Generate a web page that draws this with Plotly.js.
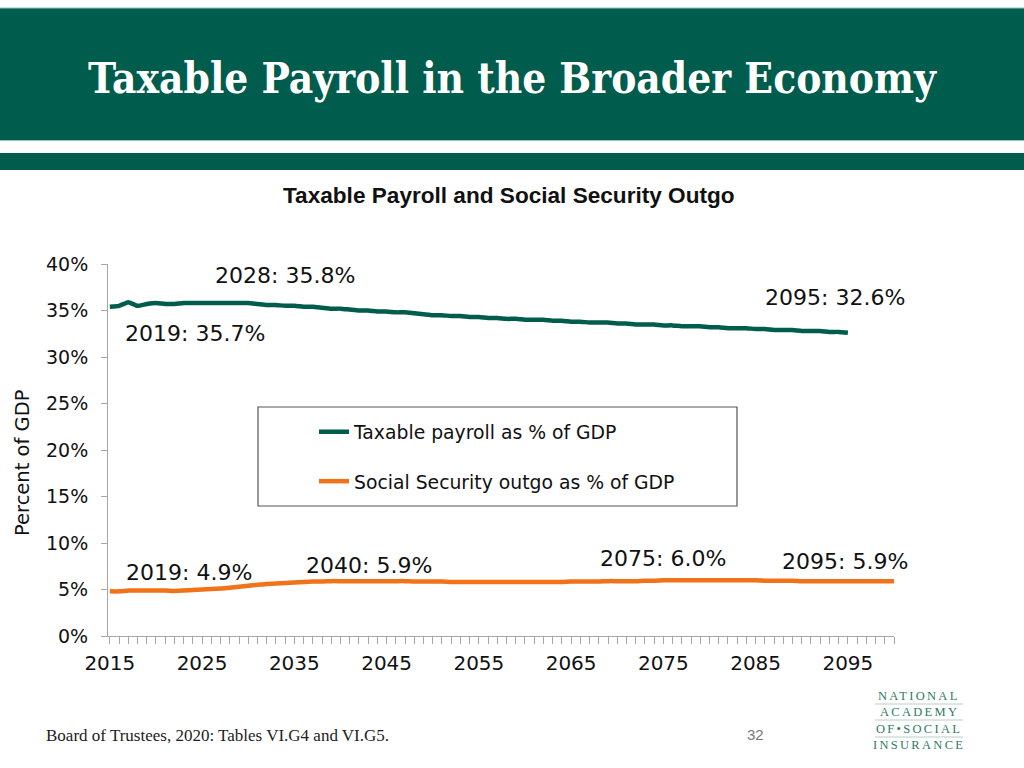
<!DOCTYPE html>
<html>
<head>
<meta charset="utf-8">
<script src="https://cdn.plot.ly/plotly-3.0.1.min.js"></script>
<style>
html,body{margin:0;padding:0;background:#fff;}
#chart{width:1024px;height:768px;}
</style>
</head>
<body>
<div id="chart"></div>
<script>
// ---- Data ----
const payrollYears = [2015,2016,2017,2018,2019,2020,2021,2022,2023,2024,2025,2026,2027,2028,2029,2030,
 2031,2032,2033,2034,2035,2036,2037,2038,2039,2040,2041,2042,2043,2044,2045,2046,2047,2048,2049,2050,
 2051,2052,2053,2054,2055,2056,2057,2058,2059,2060,2061,2062,2063,2064,2065,2066,2067,2068,2069,2070,
 2071,2072,2073,2074,2075,2076,2077,2078,2079,2080,2081,2082,2083,2084,2085,2086,2087,2088,2089,2090,
 2091,2092,2093,2094,2095];
const payrollPct = [35.4,35.5,35.9,35.5,35.7,35.8,35.7,35.7,35.8,35.8,35.8,35.8,35.8,35.8,35.8,35.8,
 35.7,35.6,35.6,35.5,35.5,35.4,35.4,35.3,35.2,35.2,35.1,35.0,35.0,34.9,34.9,34.8,34.8,34.7,34.6,34.5,
 34.5,34.4,34.4,34.3,34.3,34.2,34.2,34.1,34.1,34.0,34.0,34.0,33.9,33.9,33.8,33.8,33.7,33.7,33.7,33.6,
 33.6,33.5,33.5,33.5,33.4,33.4,33.3,33.3,33.3,33.2,33.2,33.1,33.1,33.1,33.0,33.0,32.9,32.9,32.9,32.8,
 32.8,32.8,32.7,32.7,32.6];

const outgoYears = [2015,2016,2017,2018,2019,2020,2021,2022,2023,2024,2025,2026,2027,2028,2029,2030,
 2031,2032,2033,2034,2035,2036,2037,2038,2039,2040,2041,2042,2043,2044,2045,2046,2047,2048,2049,2050,
 2051,2052,2053,2054,2055,2056,2057,2058,2059,2060,2061,2062,2063,2064,2065,2066,2067,2068,2069,2070,
 2071,2072,2073,2074,2075,2076,2077,2078,2079,2080,2081,2082,2083,2084,2085,2086,2087,2088,2089,2090,
 2091,2092,2093,2094,2095,2096,2097,2098,2099,2100];
const outgoPct = [4.8,4.8,4.9,4.9,4.9,4.9,4.9,4.85,4.9,4.95,5.0,5.05,5.1,5.2,5.3,5.4,
 5.5,5.6,5.65,5.7,5.75,5.8,5.85,5.85,5.9,5.9,5.9,5.9,5.9,5.9,5.9,5.9,5.9,5.85,5.85,5.85,
 5.85,5.8,5.8,5.8,5.8,5.8,5.8,5.8,5.8,5.8,5.8,5.8,5.8,5.8,5.85,5.85,5.85,5.85,5.9,5.9,
 5.9,5.9,5.95,5.95,6.0,6.0,6.0,6.0,6.0,6.0,6.0,6.0,6.0,6.0,6.0,5.95,5.95,5.95,5.95,5.9,
 5.9,5.9,5.9,5.9,5.9,5.9,5.9,5.9,5.9,5.9];

const seriesNames = ['Taxable payroll as % of GDP', 'Social Security outgo as % of GDP'];
const yTickVals = [0,5,10,15,20,25,30,35,40];
const xTickVals = [2015,2025,2035,2045,2055,2065,2075,2085,2095];
const callouts = [
  {text:'2028: 35.8%', px:285, py:275},
  {text:'2019: 35.7%', px:195, py:333},
  {text:'2095: 32.6%', px:835, py:297},
  {text:'2019: 4.9%',  px:189, py:572},
  {text:'2040: 5.9%',  px:369, py:565},
  {text:'2075: 6.0%',  px:663, py:558},
  {text:'2095: 5.9%',  px:845, py:561}
];

// ---- Layout helpers (pixel -> paper) ----
const L = 108, R = 894, T = 264, B = 636;
const pxX = x => (x - L) / (R - L);
const pxY = y => (B - y) / (B - T);

const teal = '#005C4B';
const orange = '#F07219';
const sans = 'DejaVu Sans, Verdana, sans-serif';
const arial = 'Liberation Sans, Arial, sans-serif';

const traces = [
  {x: payrollYears, y: payrollPct, name: seriesNames[0], type: 'scatter', mode: 'lines',
   line: {color: teal, width: 4.5, shape: 'spline', smoothing: 0.4}, legendgroup: 'a'},
  {x: outgoYears, y: outgoPct, name: seriesNames[1], type: 'scatter', mode: 'lines',
   line: {color: orange, width: 4.5, shape: 'spline', smoothing: 0.4}, legendgroup: 'b'}
];

const annotations = callouts.map(c => ({
  text: c.text, xref: 'paper', yref: 'paper', x: pxX(c.px), y: pxY(c.py),
  xanchor: 'center', yanchor: 'middle', showarrow: false,
  font: {family: sans, size: 22, color: '#111'}
}));

annotations.push(
  {text: '<b>Taxable Payroll and Social Security Outgo</b>', xref: 'paper', yref: 'paper',
   x: pxX(509), y: pxY(196), xanchor: 'center', yanchor: 'middle', showarrow: false,
   font: {family: arial, size: 22.6, color: '#111'}},
  {text: 'Percent of GDP', xref: 'paper', yref: 'paper', textangle: -90,
   x: pxX(22), y: pxY(463), xanchor: 'center', yanchor: 'middle', showarrow: false,
   font: {family: sans, size: 19.5, color: '#111'}},
  {text: 'Board of Trustees, 2020: Tables VI.G4 and VI.G5.', xref: 'paper', yref: 'paper',
   x: pxX(44), y: pxY(735), xanchor: 'left', yanchor: 'middle', showarrow: false,
   font: {family: 'Liberation Serif, Times New Roman, serif', size: 17, color: '#222'}},
  {text: '32', xref: 'paper', yref: 'paper',
   x: pxX(755), y: pxY(734), xanchor: 'center', yanchor: 'middle', showarrow: false,
   font: {family: arial, size: 15, color: '#777'}}
);

const logoLines = ['NATIONAL', 'ACADEMY', 'OF•SOCIAL', 'INSURANCE'];
const logoY = [696, 712, 729, 745];
logoLines.forEach((t, i) => {
  annotations.push({text: '<span style="letter-spacing:2.3px">' + t + '</span>', xref: 'paper', yref: 'paper',
    x: pxX(919), y: pxY(logoY[i]), xanchor: 'center', yanchor: 'middle', showarrow: false,
    font: {family: 'Liberation Serif, Times New Roman, serif', size: 12.5, color: '#2E7A69'}});
});

const shapes = [
  {type: 'rect', xref: 'paper', yref: 'paper', x0: pxX(0), x1: pxX(1024), y0: pxY(140), y1: pxY(8),
   fillcolor: '#005C4C', line: {width: 0}, layer: 'below'},
  {type: 'line', xref: 'paper', yref: 'paper', x0: pxX(0), x1: pxX(1024), y0: pxY(8), y1: pxY(8),
   line: {color: '#8FC7BE', width: 1}},
  {type: 'line', xref: 'paper', yref: 'paper', x0: pxX(0), x1: pxX(1024), y0: pxY(140.5), y1: pxY(140.5),
   line: {color: '#8FC7BE', width: 1}},
  {type: 'rect', xref: 'paper', yref: 'paper', x0: pxX(0), x1: pxX(1024), y0: pxY(170), y1: pxY(153),
   fillcolor: '#005C4C', line: {width: 0}, layer: 'below'},
  {type: 'rect', xref: 'paper', yref: 'paper', x0: pxX(258), x1: pxX(737), y0: pxY(506), y1: pxY(407),
   fillcolor: 'rgba(0,0,0,0)', line: {color: '#555', width: 1.2}},
  {type: 'line', xref: 'paper', yref: 'paper', x0: pxX(875), x1: pxX(963), y0: pxY(704), y1: pxY(704),
   line: {color: '#B9CFC9', width: 1}},
  {type: 'line', xref: 'paper', yref: 'paper', x0: pxX(875), x1: pxX(963), y0: pxY(720), y1: pxY(720),
   line: {color: '#B9CFC9', width: 1}},
  {type: 'line', xref: 'paper', yref: 'paper', x0: pxX(875), x1: pxX(963), y0: pxY(737), y1: pxY(737),
   line: {color: '#B9CFC9', width: 1}}
];

const layout = {
  width: 1024, height: 768,
  margin: {l: L, r: 1024 - R, t: T, b: 768 - B, pad: 0},
  paper_bgcolor: '#fff', plot_bgcolor: '#fff',
  title: {text: 'Taxable Payroll in the Broader Economy', xref: 'container', yref: 'container',
          x: 0.5, xanchor: 'center', y: 1 - 78 / 768, yanchor: 'middle',
          font: {family: 'DejaVu Serif Condensed, DejaVu Serif, serif', size: 42, weight: 'bold', color: '#fff'}},
  xaxis: {range: [2014.8, 2100], tickvals: xTickVals, ticktext: xTickVals.map(String),
          showgrid: false, zeroline: false, showline: true, linecolor: '#A6A6A6', linewidth: 1,
          ticks: 'outside', ticklen: 7, tickcolor: '#A6A6A6',
          minor: {dtick: 1, tick0: 2015, ticks: 'outside', ticklen: 7, tickcolor: '#A6A6A6', showgrid: false},
          tickfont: {family: sans, size: 20, color: '#111'}, ticklabelstandoff: 2, fixedrange: true},
  yaxis: {range: [0, 40], tickvals: yTickVals, ticktext: yTickVals.map(v => v + '%'),
          showgrid: false, zeroline: false, showline: true, linecolor: '#A6A6A6', linewidth: 1,
          ticks: 'outside', ticklen: 6, tickcolor: '#A6A6A6',
          tickfont: {family: sans, size: 19, color: '#111'}, ticklabelstandoff: 9,
          fixedrange: true},
  showlegend: true,
  legend: {x: pxX(314), y: pxY(413), xanchor: 'left', yanchor: 'top', bgcolor: 'rgba(0,0,0,0)',
           borderwidth: 0, font: {family: sans, size: 18.8, color: '#111'}, tracegroupgap: 22,
           itemwidth: 30, traceorder: 'grouped'},
  shapes: shapes,
  annotations: annotations
};

Plotly.newPlot('chart', traces, layout, {displayModeBar: false, staticPlot: true});
</script>
</body>
</html>
